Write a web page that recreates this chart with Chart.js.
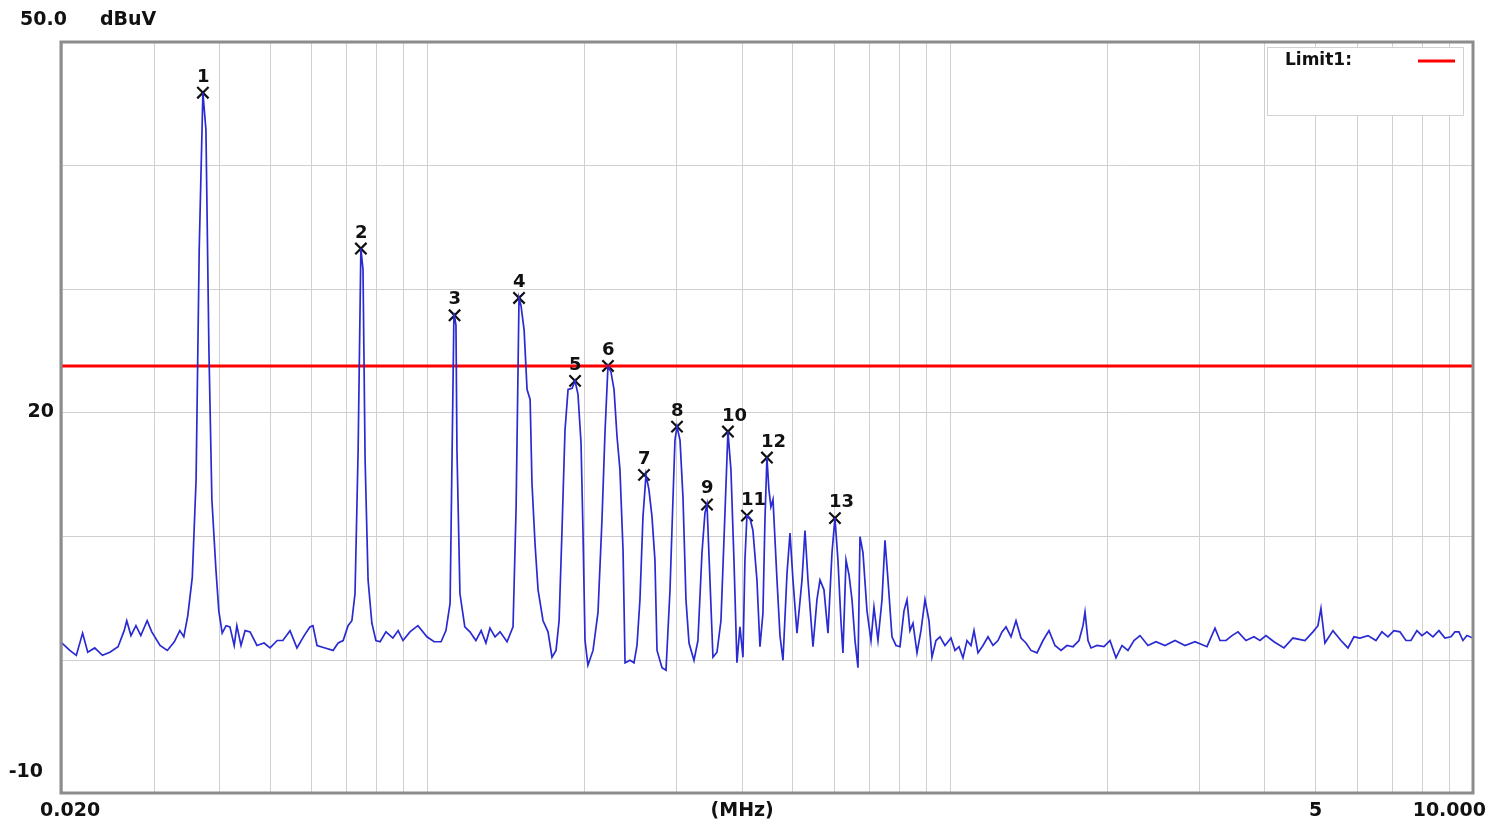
<!DOCTYPE html>
<html>
<head>
<meta charset="utf-8">
<script src="https://cdn.jsdelivr.net/npm/chart.js@4"></script>
<style>
  html, body { margin: 0; padding: 0; background: #fff; }
  #wrap { width: 1499px; height: 827px; position: relative; }
</style>
</head>
<body>
<div id="wrap"><canvas id="emi"></canvas></div>
<script>
// Sweep trace (MHz, dBuV)
const traceFreq = [
  0.0200,0.0207,0.0213,0.0219,0.0224,0.0231,0.0239,0.0247,0.0256,0.0263,
  0.0266,0.0271,0.0277,0.0283,0.0291,0.0297,0.0308,0.0318,0.0328,0.0336,
  0.0342,0.0348,0.0355,0.0361,0.0366,0.0372,0.0377,0.0382,0.0387,0.0394,
  0.0399,0.0405,0.0412,0.0419,0.0427,0.0432,0.0440,0.0448,0.0458,0.0472,
  0.0487,0.0500,0.0516,0.0529,0.0546,0.0563,0.0581,0.0596,0.0604,0.0615,
  0.0637,0.0660,0.0675,0.0690,0.0705,0.0717,0.0727,0.0737,0.0746,0.0753,
  0.0760,0.0770,0.0783,0.0797,0.0812,0.0833,0.0859,0.0879,0.0898,0.0926,
  0.0959,0.0998,0.1030,0.1062,0.1085,0.1105,0.1115,0.1124,0.1134,0.1139,
  0.1154,0.1179,0.1206,0.1238,0.1267,0.1294,0.1317,0.1347,0.1377,0.1420,
  0.1458,0.1478,0.1491,0.1497,0.1510,0.1531,0.1551,0.1572,0.1585,0.1607,
  0.1628,0.1664,0.1701,0.1731,0.1762,0.1786,0.1809,0.1833,0.1858,0.1891,
  0.1916,0.1941,0.1967,0.1984,0.2002,0.2028,0.2074,0.2120,0.2157,0.2186,
  0.2215,0.2245,0.2275,0.2305,0.2335,0.2367,0.2388,0.2441,0.2484,0.2517,
  0.2550,0.2584,0.2619,0.2653,0.2689,0.2724,0.2749,0.2810,0.2860,0.2911,
  0.2949,0.2975,0.3002,0.3042,0.3082,0.3123,0.3165,0.3235,0.3292,0.3351,
  0.3395,0.3426,0.3471,0.3517,0.3580,0.3643,0.3708,0.3757,0.3807,0.3858,
  0.3909,0.3961,0.4014,0.4049,0.4085,0.4139,0.4194,0.4269,0.4326,0.4383,
  0.4422,0.4461,0.4500,0.4540,0.4582,0.4663,0.4725,0.4788,0.4873,0.4938,
  0.5003,0.5092,0.5206,0.5275,0.5345,0.5464,0.5561,0.5635,0.5735,0.5837,
  0.5941,0.6019,0.6099,0.6180,0.6235,0.6320,0.6404,0.6489,0.6575,0.6662,
  0.6721,0.6810,0.6931,0.7055,0.7148,0.7275,0.7405,0.7503,0.7603,0.7738,
  0.7876,0.8016,0.8158,0.8267,0.8376,0.8488,0.8639,0.8792,0.8949,0.9108,
  0.9229,0.9393,0.9560,0.9773,1.0034,1.0213,1.0394,1.0579,1.0767,1.0958,
  1.1105,1.1302,1.1554,1.1811,1.2074,1.2343,1.2562,1.2786,1.3070,1.3361,
  1.3659,1.3963,1.4273,1.4656,1.5048,1.5451,1.5865,1.6290,1.6726,1.7174,
  1.7634,1.7948,1.8107,1.8347,1.8591,1.9089,1.9687,2.0214,2.0754,2.1310,
  2.1880,2.2466,2.3070,2.3896,2.4754,2.5754,2.6914,2.8126,2.9392,3.0988,
  3.2098,3.2812,3.3694,3.4596,3.5520,3.6792,3.8110,3.9130,4.0178,4.1618,
  4.3492,4.5250,4.7704,4.9414,5.0514,5.1186,5.2096,5.3966,5.5900,5.7652,
  5.9196,6.0782,6.2960,6.5218,6.6964,6.8754,7.0594,7.2482,7.4424,7.6082,
  7.8118,7.9858,8.1636,8.3824,8.6070,8.8372,9.0740,9.2352,9.3994,9.5666,
  9.7368,10.000
];
const traceLevel = [
  1.4,0.8,0.4,2.2,0.65,1.0,0.4,0.65,1.1,2.4,
  3.2,2.0,2.8,2.0,3.2,2.3,1.2,0.8,1.5,2.4,
  1.9,3.6,6.7,14.6,33.2,45.9,42.9,25.1,13.0,7.3,
  4.0,2.2,2.8,2.7,1.2,2.8,1.2,2.4,2.3,1.2,
  1.4,1.0,1.6,1.6,2.4,1.0,2.0,2.7,2.8,1.2,
  1.0,0.8,1.4,1.6,2.8,3.2,5.4,17.0,33.3,31.6,
  16.2,6.5,3.0,1.6,1.5,2.3,1.8,2.4,1.6,2.3,
  2.8,1.9,1.5,1.5,2.4,4.6,17.0,28.1,27.1,17.0,
  5.4,2.7,2.3,1.6,2.4,1.4,2.6,1.9,2.3,1.5,
  2.7,12.4,24.0,29.3,28.7,26.7,21.9,21.1,14.3,9.3,
  5.7,3.2,2.3,0.25,0.8,3.2,10.5,18.6,21.9,22.0,
  22.6,21.5,17.6,10.5,1.6,-0.4,0.8,3.9,11.3,18.4,
  23.8,23.3,21.9,18.1,15.4,8.9,-0.2,0.0,-0.2,1.2,
  4.9,11.6,15.0,13.8,11.6,8.1,0.8,-0.6,-0.8,5.7,
  13.0,17.8,18.9,17.8,13.2,4.9,1.4,0.0,1.6,8.7,
  11.9,12.6,6.5,0.25,0.65,3.2,11.9,18.5,15.4,8.1,
  -0.2,2.7,0.25,8.1,11.7,11.5,10.5,6.5,1.1,3.8,
  11.3,16.4,13.8,12.4,13.0,6.5,2.0,0.0,7.0,10.3,
  6.5,2.2,6.5,10.5,6.5,1.1,4.9,6.5,5.7,2.2,
  8.7,11.5,8.1,3.2,0.6,8.1,6.9,4.9,1.6,-0.6,
  10.0,8.7,4.0,1.6,4.3,1.6,4.9,9.7,6.5,1.9,
  1.2,1.1,4.0,4.9,2.4,3.0,0.6,2.4,4.9,3.2,
  0.25,1.6,1.9,1.2,1.8,0.8,1.1,0.2,1.6,1.2,
  2.4,0.6,1.2,1.9,1.2,1.6,2.3,2.7,1.9,3.2,
  1.8,1.4,0.8,0.6,1.6,2.4,1.2,0.8,1.2,1.1,
  1.6,2.8,3.9,1.6,1.0,1.2,1.1,1.6,0.2,1.2,
  0.8,1.6,2.0,1.2,1.5,1.2,1.6,1.2,1.5,1.1,
  2.6,1.6,1.6,2.0,2.3,1.6,1.9,1.6,2.0,1.5,
  1.0,1.8,1.6,2.3,2.8,4.2,1.4,2.4,1.6,1.0,
  1.9,1.8,2.0,1.6,2.3,1.9,2.4,2.3,1.6,1.6,
  2.4,2.0,2.3,1.9,2.4,1.8,1.9,2.3,2.3,1.6,
  2.0,1.8
];

// Peak markers
const markerLabels = ['1','2','3','4','5','6','7','8','9','10','11','12','13'];
const markerFreq  = [0.0372,0.0746,0.1127,0.1497,0.1916,0.2215,0.2596,0.3002,0.3426,0.3757,0.4085,0.4461,0.6019];
const markerLevel = [45.9,33.3,27.9,29.3,22.6,23.8,15.0,18.9,12.6,18.5,11.7,16.4,11.5];

// Limit line
const limitName = 'Limit1';
const limitLevel = 23.8;

// Axes
const xMin = 0.02, xMax = 10;
const yMin = -10.73, yMax = 50;
const xGrid = [0.02,0.03,0.04,0.05,0.06,0.07,0.08,0.09,0.1,0.2,0.3,0.4,0.5,0.6,0.7,0.8,0.9,1,2,3,4,5,6,7,8,9,10];
const yGrid = [-10,0,10,20,30,40,50];
const xLabelAt = [0.02, 0.4, 5, 10];
const xLabelText = ['0.020', '(MHz)', '5', '10.000'];
const yLabelAt = [20, -10];
const yLabelText = ['20', '-10'];
const yUnitTop = ['50.0', 'dBuV'];

const FONT = '"DejaVu Sans", "Liberation Sans", sans-serif';
const gridColor = '#d0d0d0';

const overlay = {
  id: 'overlay',
  afterDatasetsDraw(chart) {
    const { ctx, chartArea: a } = chart;
    ctx.save();
    // marker numbers
    const meta = chart.getDatasetMeta(2);
    ctx.font = 'bold 18px ' + FONT;
    ctx.fillStyle = '#111';
    ctx.textAlign = 'left';
    ctx.textBaseline = 'alphabetic';
    meta.data.forEach((pt, i) => ctx.fillText(markerLabels[i], pt.x - 6, pt.y - 11));

    // frame
    ctx.strokeStyle = '#8c8c8c';
    ctx.lineWidth = 3;
    ctx.strokeRect(a.left - 1, a.top, a.right - a.left + 1, a.bottom - a.top);

    // legend box
    ctx.fillStyle = '#fff';
    ctx.fillRect(1267, 47, 196, 68);
    ctx.strokeStyle = '#d2d2d2';
    ctx.lineWidth = 1;
    ctx.strokeRect(1267.5, 47.5, 196, 68);
    ctx.fillStyle = '#111';
    ctx.font = 'bold 17px ' + FONT;
    ctx.textBaseline = 'middle';
    ctx.fillText(limitName + ':', 1285, 61);
    ctx.strokeStyle = chart.data.datasets[1].borderColor;
    ctx.lineWidth = 3;
    ctx.beginPath(); ctx.moveTo(1418, 61); ctx.lineTo(1455, 61); ctx.stroke();
    ctx.restore();
  },
  afterDraw(chart) {
    const { ctx, scales: { x, y } } = chart;
    ctx.save();
    ctx.fillStyle = '#111';
    ctx.font = 'bold 19px ' + FONT;
    ctx.textBaseline = 'middle';
    // top-left unit text
    ctx.textAlign = 'left';
    ctx.fillText(yUnitTop[0], 20, 20);
    ctx.fillText(yUnitTop[1], 100, 20);
    // y labels
    ctx.textAlign = 'right';
    ctx.fillText(yLabelText[0], 54, y.getPixelForValue(yLabelAt[0]) - 1);
    ctx.fillText(yLabelText[1], 43, y.getPixelForValue(yLabelAt[1]) - 12);
    // x labels
    xLabelAt.forEach((v, i) => {
      const px = x.getPixelForValue(v);
      if (i === 0) { ctx.textAlign = 'left'; ctx.fillText(xLabelText[i], px - 22, 811); }
      else if (i === xLabelAt.length - 1) { ctx.textAlign = 'right'; ctx.fillText(xLabelText[i], px + 13, 811); }
      else { ctx.textAlign = 'center'; ctx.fillText(xLabelText[i], px, 811); }
    });
    ctx.restore();
  }
};

new Chart(document.getElementById('emi'), {
  type: 'line',
  data: {
    datasets: [
      {
        label: 'Trace',
        data: traceFreq.map((f, i) => ({ x: f, y: traceLevel[i] })),
        borderColor: '#2a2ad2',
        borderWidth: 1.7,
        pointRadius: 0,
        tension: 0
      },
      {
        label: limitName,
        data: [{ x: xMin, y: limitLevel }, { x: xMax, y: limitLevel }],
        borderColor: '#ff0000',
        borderWidth: 3,
        pointRadius: 0
      },
      {
        label: 'Markers',
        data: markerFreq.map((f, i) => ({ x: f, y: markerLevel[i] })),
        showLine: false,
        pointStyle: 'crossRot',
        pointRadius: 8,
        borderColor: '#111',
        borderWidth: 2.2
      }
    ]
  },
  options: {
    responsive: true,
    maintainAspectRatio: false,
    animation: false,
    devicePixelRatio: 1,
    layout: { padding: { top: 42, right: 26, left: 0, bottom: 0 } },
    plugins: { legend: { display: false }, tooltip: { enabled: false } },
    scales: {
      x: {
        type: 'logarithmic',
        min: xMin, max: xMax,
        afterBuildTicks: s => { s.ticks = xGrid.map(v => ({ value: v })); },
        afterFit: s => { s.height = 34; },
        ticks: { display: false },
        grid: { color: gridColor, lineWidth: 1, drawTicks: false },
        border: { display: false }
      },
      y: {
        min: yMin, max: yMax,
        afterBuildTicks: s => { s.ticks = yGrid.map(v => ({ value: v })); },
        afterFit: s => { s.width = 62; },
        ticks: { display: false },
        grid: {
          color: c => (c.tick && c.tick.value === -10) ? 'rgba(0,0,0,0)' : gridColor,
          lineWidth: 1, drawTicks: false
        },
        border: { display: false }
      }
    }
  },
  plugins: [overlay]
});
</script>
</body>
</html>
